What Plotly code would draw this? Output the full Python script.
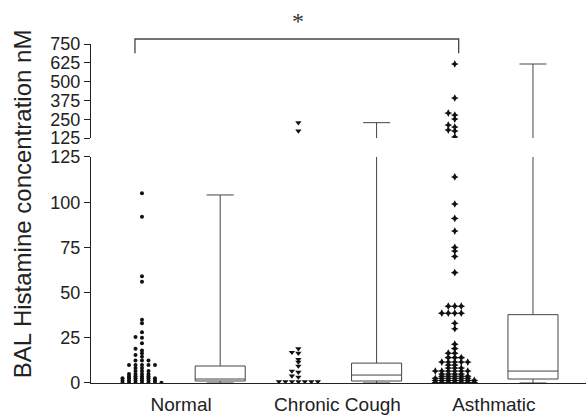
import plotly.graph_objects as go

# ---------------- data ----------------
groups = ["Normal", "Chronic Cough", "Asthmatic"]
tick_low = [0, 25, 50, 75, 100, 125]
tick_high = [125, 250, 375, 500, 625, 750]

normal_vals = ([0.2] * 7 + [1.4] * 6 + [2.6] * 6 + [3.8] * 4 + [5.0] * 4 + [6.6] * 3 +
               [8.3] * 2 + [10] * 5 + [12.5] * 3 +
               [14.5, 15.5, 16.5, 18, 19, 22, 25, 25.4, 28, 33, 35, 56, 59, 92, 105])
cough_vals = ([0.8] * 7 + [3.3, 3.9, 6.0, 6.6, 9.4, 11.6, 13, 16.5, 17, 19, 172, 227])
asthma_vals = ([0.2] * 7 + [1.4] * 7 + [2.6] * 6 + [3.8] * 5 + [5.0] * 4 + [6.6] * 6 +
               [8.3] * 3 + [10] * 2 + [11.6] * 5 + [14] * 3 + [16.5] * 2 +
               [19, 21.5, 30, 33] + [38.6] * 4 + [42.5] * 3 +
               [61, 70, 73, 75, 84, 91, 99, 114,
                132, 172, 178, 198, 211, 251, 278, 291, 391, 617])

# box statistics (min / q1 / median / q3 / max)
box_min = [0, 0, 0]
box_q1 = [1.1, 1.1, 2.2]
box_med = [2.2, 4.4, 6.6]
box_q3 = [9.4, 11.0, 37.8]
box_max = [104, 227, 617]

BREAK = 125
TOP = 750

# ---------------- layout helpers ----------------
dot_pos = [0, 2, 4]
box_pos = [1, 3, 5]
SLOT = 0.083


def swarm(vals, d):
    placed = []
    out = []
    order = [0]
    for i in range(1, 15):
        order += [-i, i]
    for v in sorted(vals):
        for s in order:
            if all(not (ps == s and abs(pv - v) < d) for ps, pv in placed):
                break
        placed.append((s, v))
        out.append((s, v))
    return out


fig = go.Figure()

symbols = ["circle", "triangle-down", "star-diamond"]
sizes = [4, 5.5, 5.5]
all_vals = [normal_vals, cough_vals, asthma_vals]

for gi, vals in enumerate(all_vals):
    low = [v for v in vals if v <= BREAK]
    high = [v for v in vals if v > BREAK]
    for part, yax, d in ((low, "y", 1.1), (high, "y2", 18)):
        if not part:
            continue
        sw = swarm(part, d)
        fig.add_trace(go.Scatter(
            x=[dot_pos[gi] + s * SLOT for s, v in sw],
            y=[v for s, v in sw],
            mode="markers", yaxis=yax, xaxis="x",
            marker=dict(symbol=symbols[gi], size=sizes[gi], color="#111",
                        line=dict(width=0)),
            showlegend=False, hoverinfo="y"))

for yax in ("y", "y2"):
    fig.add_trace(go.Box(
        x=box_pos, q1=box_q1, median=box_med, q3=box_q3,
        lowerfence=box_min, upperfence=box_max,
        width=0.64, whiskerwidth=0.54, boxpoints=False,
        line=dict(color="#444", width=1), fillcolor="rgba(255,255,255,0)",
        xaxis="x", yaxis=yax, showlegend=False))

tick_font = dict(family="Liberation Sans, Arial, sans-serif", size=18, color="#222")

fig.update_layout(
    width=586, height=418,
    margin=dict(l=91, r=0, t=44, b=35),
    paper_bgcolor="white", plot_bgcolor="white",
    showlegend=False,
    xaxis=dict(range=[-0.652, 5.678], showgrid=False, zeroline=False,
               showline=True, linecolor="#222", linewidth=1.3,
               tickvals=[0.5, 2.5, 4.5], ticktext=groups, ticks="",
               ticklabelstandoff=4,
               tickfont=dict(family="Liberation Sans, Arial, sans-serif", size=19,
                             color="#222"),
               anchor="y"),
    yaxis=dict(domain=[0, 0.6667], range=[0, BREAK], tickvals=tick_low,
               showgrid=False, zeroline=False, showline=True, linecolor="#222",
               linewidth=1.3, ticks="outside", ticklen=6, tickcolor="#222",
               tickfont=tick_font, anchor="x"),
    yaxis2=dict(domain=[0.7227, 1], range=[BREAK, TOP], tickvals=tick_high,
                showgrid=False, zeroline=False, showline=True, linecolor="#222",
                linewidth=1.3, ticks="outside", ticklen=6, tickcolor="#222",
                tickfont=tick_font, anchor="x"),
)

# y-axis title spanning both panels
fig.add_annotation(text="BAL Histamine concentration nM", textangle=-90,
                   xref="paper", yref="paper", x=-0.139, y=0.528,
                   xanchor="center", yanchor="middle", showarrow=False,
                   font=dict(family="Liberation Sans, Arial, sans-serif", size=24,
                             color="#222"))

# significance bracket
fig.add_shape(type="path", xref="x", yref="paper",
              path="M -0.09,0.973 L -0.09,1.0147 L 4.05,1.0147 L 4.05,0.973",
              line=dict(color="#444", width=1.3))
fig.add_annotation(text="*", xref="x", yref="paper", x=1.99, y=1.068,
                   xanchor="center", yanchor="middle", showarrow=False,
                   font=dict(family="Liberation Serif, Times New Roman, serif",
                             size=24, color="#333"))

fig.write_html("out.html",
               config={"displayModeBar": False},
               post_script="document.body.style.margin='0';"
                           "document.body.style.padding='0';")
